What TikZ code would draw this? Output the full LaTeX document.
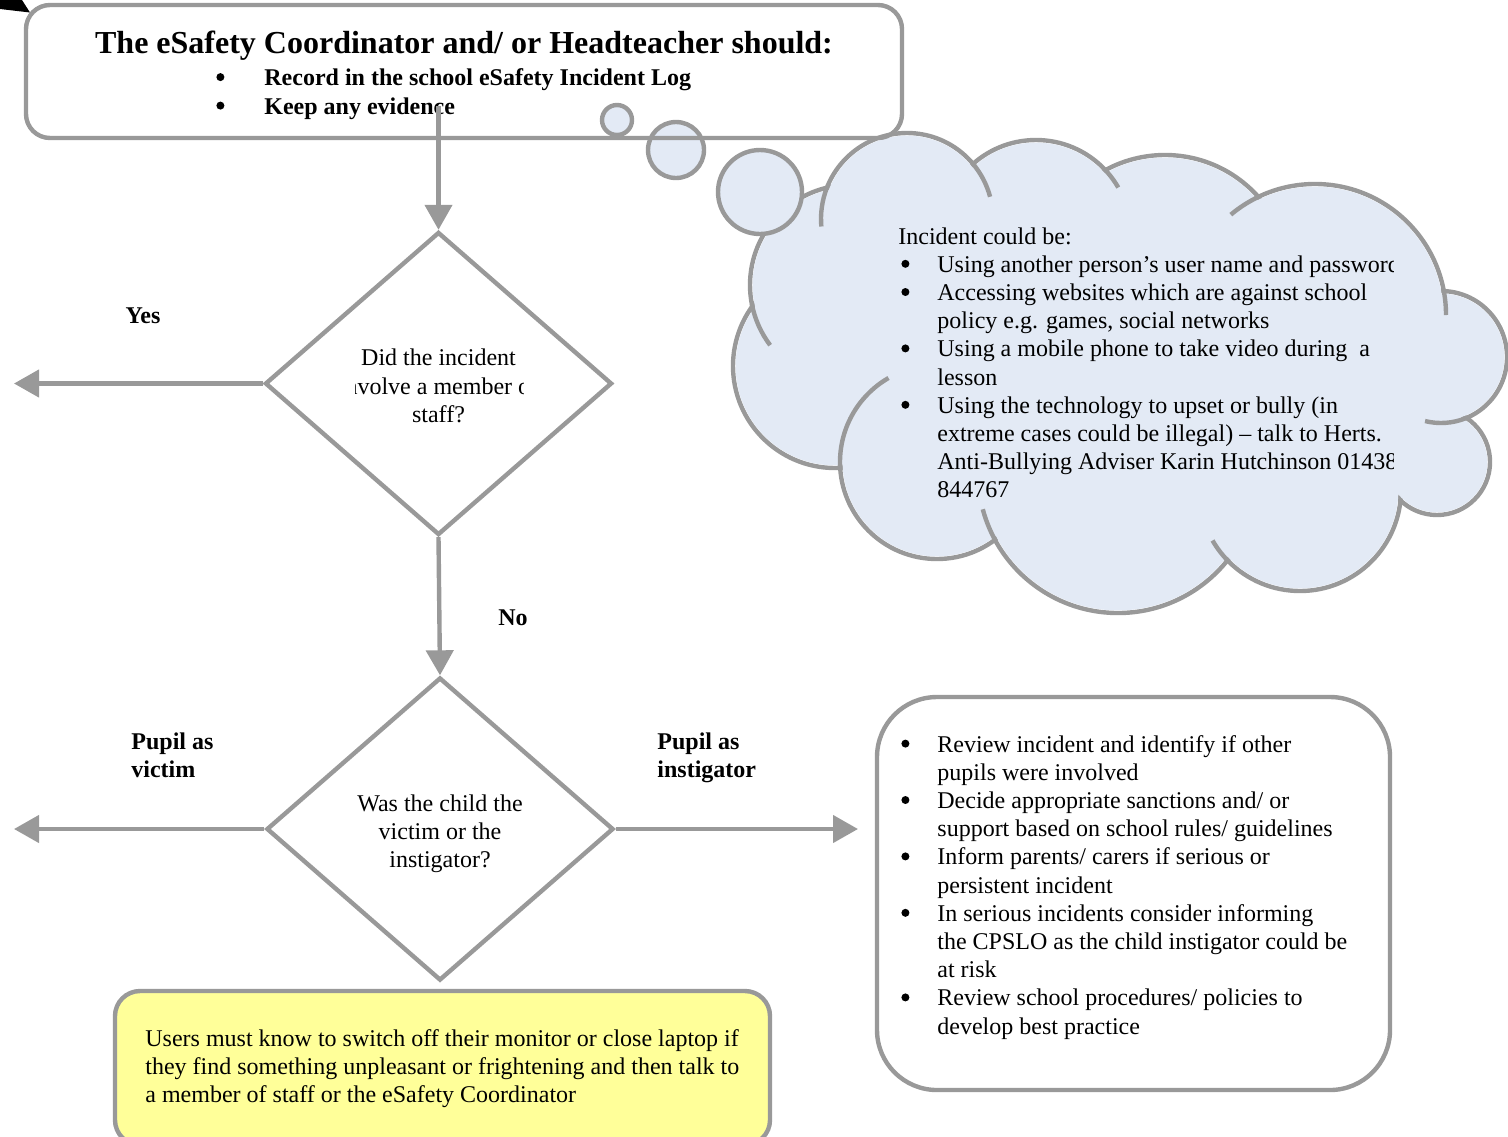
\documentclass[tikz,border=0pt]{standalone}
\usepackage{fontspec}
\setmainfont{Liberation Serif}
\usetikzlibrary{arrows.meta,shapes.geometric}
\definecolor{linegray}{RGB}{153,153,153}
\definecolor{cloudblue}{RGB}{227,234,245}
\definecolor{noteyellow}{RGB}{255,255,153}
\newcommand{\blt}[1][18pt]{\makebox[#1][l]{\tikz[x=1pt,y=1pt,baseline=0pt]\fill (2.5,4.2) circle[radius=2];}}
\newcommand{\bltgap}[1][18pt]{\hspace*{#1}}
\def\cloudpuffs{907/219/86, 1036/235/95, 1165/280/125, 1315/315/131,
  1441/357/66, 1437/462/53, 1300/490/101, 1118/473/140, 937/462/97,
  835/366/102, 850/285/100}
\def\cloudstubs{907/219/86/201/175, 907/219/86/320/345, 1036/235/95/318/330,
  1315/315/131/244/230, 1315/315/131/349/360, 1441/357/66/68/104,
  1300/490/101/136/150, 1118/473/140/151/165, 937/462/97/177/240,
  850/285/100/169/143}

\begin{document}
\begin{tikzpicture}[
  x=0.5pt, y=-0.5pt,
  every node/.style={font=\fontsize{12}{14.1}\selectfont, inner sep=0pt},
  txt/.style={align=left, anchor=base west},
  lbl/.style={font=\bfseries\fontsize{12}{14.1}\selectfont,
    align=left, anchor=base west},
  rbox/.style={draw=linegray, line width=2.2pt, rounded corners=#1,
    outer sep=0pt},
  dia/.style={diamond, draw=linegray, line width=2.2pt,
    minimum width=173.5pt, minimum height=151.5pt},
  arr/.style={draw=linegray, line width=2.2pt,
    -{Triangle[length=12.5pt,width=13.5pt]}},
  puff/.style={draw=linegray, line width=2.2pt},
  bubble/.style={draw=linegray, fill=cloudblue, line width=2.2pt}
]
  \useasboundingbox (0,0) rectangle (1508,1136);
  \fill (0,0) -- (22,0) -- (30,12.5) -- (0,9) -- cycle;

  % cloud: outline of the puffs, then the fill, then the inner arcs
  \foreach \cx/\cy/\r in \cloudpuffs {
    \draw[puff] (\cx,\cy) circle[radius=\r];
  }
  \foreach \cx/\cy/\r in \cloudpuffs {
    \fill[cloudblue] (\cx,\cy) circle[radius=\r-2.6];
  }
  \fill[cloudblue] (1110,370) ellipse[x radius=300, y radius=160];
  \fill[cloudblue] (1390,430) circle[radius=45];
  \foreach \cx/\cy/\r/\a/\b in \cloudstubs {
    \draw[puff] (\cx,\cy) ++(\a:\r) arc[start angle=\a, end angle=\b, radius=\r];
  }
  \draw[bubble] (617,120) circle[radius=15];
  \draw[bubble] (676,150) circle[radius=28];
  \draw[bubble] (760,192) circle[radius=42];

  \begin{scope}
    \clip (880,200) rectangle (1393,520);
    \node[txt] (cloudhead) at (898,244) {Incident could be:};
    \node[txt] (cloudlist) at (901,497.8) {\blt Using another person’s user name and password\\
      \blt Accessing websites which are against school\\
      \bltgap policy e.g. games, social networks\\
      \blt Using a mobile phone to take video during \ a\\
      \bltgap lesson\\
      \blt Using the technology to upset or bully (in\\
      \bltgap extreme cases could be illegal) – talk to Herts.\\
      \bltgap Anti-Bullying Adviser Karin Hutchinson 01438\\
      \bltgap 844767};
  \end{scope}

  \node[rbox=12pt, minimum width=438pt, minimum height=66.5pt] (log) at (464,71.5) {};
  \node[font=\bfseries\fontsize{16}{19}\selectfont, anchor=base] (logtitle) at (464,53)
    {The eSafety Coordinator and/ or Headteacher should:};
  \node[lbl, font=\bfseries\fontsize{12}{14.25}\selectfont] (logsteps) at (216,114)
    {\blt[24pt]Record in the school eSafety Incident Log\\
     \blt[24pt]Keep any evidence};
  \coordinate (logout) at (438.5,106);

  \node[dia] (qstaff) at (438.5,383.5) {};
  \begin{scope}
    \clip (355,330) rectangle (523,440);
    \node[align=center] (qstafftext) at (438.5,386)
      {Did the incident\\involve a member of\\staff?};
  \end{scope}
  \node[dia] (qrole) at (440,829) {};
  \node[align=center] (qroletext) at (440,834)
    {Was the child the\\victim or the\\instigator?};

  \coordinate (yesend) at (14,383.5);
  \coordinate (victimend) at (14,829);
  \coordinate (instigend) at (858,829);

  \draw[arr] (logout) -- (qstaff.north);
  \draw[arr] (qstaff.west) -- (yesend);
  \draw[arr] (qstaff.south) -- (qrole.north);
  \draw[arr] (qrole.west) -- (victimend);
  \draw[arr] (qrole.east) -- (instigend);

  \node[lbl, anchor=base] (yes) at (143,323) {Yes};
  \node[lbl, anchor=base] (no) at (513,625) {No};
  \node[lbl] (victim) at (131,777.2) {Pupil as\\victim};
  \node[lbl] (instig) at (657,777.2) {Pupil as\\instigator};

  \node[rbox=30pt, minimum width=256.5pt, minimum height=196.5pt] (review) at (1133.5,893.5) {};
  \node[txt] (reviewlist) at (901,1034)
    {\blt Review incident and identify if other\\
     \bltgap pupils were involved\\
     \blt Decide appropriate sanctions and/ or\\
     \bltgap support based on school rules/ guidelines\\
     \blt Inform parents/ carers if serious or\\
     \bltgap persistent incident\\
     \blt In serious incidents consider informing\\
     \bltgap the CPSLO as the child instigator could be\\
     \bltgap at risk\\
     \blt Review school procedures/ policies to\\
     \bltgap develop best practice};

  \node[rbox=12.5pt, fill=noteyellow, minimum width=327.5pt, minimum height=77pt] (advice) at (442.5,1068) {};
  \node[txt] (advicetext) at (145,1102.4)
    {Users must know to switch off their monitor or close laptop if\\
     they find something unpleasant or frightening and then talk to\\
     a member of staff or the eSafety Coordinator};
\end{tikzpicture}
\end{document}
